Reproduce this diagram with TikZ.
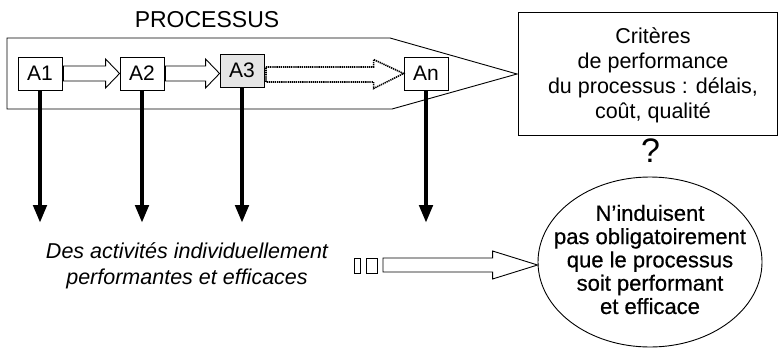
\documentclass[tikz,border=0pt]{standalone}
\usepackage{fontspec}
\setmainfont{Liberation Sans}
\newfontfamily\medfont[FakeBold=0.6]{Liberation Sans}
\usetikzlibrary{shapes.geometric,arrows.meta,calc}
\begin{document}
\begin{tikzpicture}[x=1pt,y=-1pt,
  abox/.style={draw,line width=0.9pt,minimum width=44pt,minimum height=33pt,inner sep=0pt,font=\fontsize{21}{24}\selectfont},
  hollow/.style={draw,line width=0.9pt,fill=white},
  dotarr/.style={draw,line width=1.6pt,dash pattern=on 1.3pt off 0.8pt,fill=white},
  thickarr/.style={line width=4.5pt,-{Triangle[width=13pt,length=18pt]}},
  txt/.style={font=\fontsize{21.5}{25}\selectfont,align=center,inner sep=0pt},
]
\useasboundingbox (0,0) rectangle (778,348);
% process outline
\draw[line width=0.9pt] (7,38) -- (390,38) -- (517,74) -- (392,109) -- (7,109) -- cycle;
\node[txt,font=\fontsize{23}{26}\selectfont] (proc) at (207,20) {PROCESSUS};
% activity boxes
\node[abox] (A1) at (40,73.5) {A1};
\node[abox] (A2) at (142,73.5) {A2};
\node[abox,fill=black!10] (A3) at (242,70.5) {A3};
\node[abox] (An) at (426,73.5) {An};
% hollow arrows between activities
\draw[hollow] let \p1=(A1.east), \p2=(A2.west) in
  (\x1+1pt,\y1+7.5pt) -- (\x2-14pt,\y1+7.5pt) -- (\x2-14pt,\y1+14.5pt) -- (\x2,\y1)
  -- (\x2-14pt,\y1-14.5pt) -- (\x2-14pt,\y1-7.5pt) -- (\x1+1pt,\y1-7.5pt) -- cycle;
\draw[hollow] let \p1=(A2.east), \p2=(A3.west) in
  (\x1+1pt,\y1+7.5pt) -- (\x2-14pt,\y1+7.5pt) -- (\x2-14pt,\y1+14.5pt) -- (\x2,\y1)
  -- (\x2-14pt,\y1-14.5pt) -- (\x2-14pt,\y1-7.5pt) -- (\x1+1pt,\y1-7.5pt) -- cycle;
\draw[dotarr] let \p1=(A3.east), \p2=(An.west) in
  (\x1+1.5pt,\y2+6.5pt) -- (\x2-30pt,\y2+6.5pt) -- (\x2-30pt,\y2+14pt) -- (\x2,\y2)
  -- (\x2-30pt,\y2-15pt) -- (\x2-30pt,\y2-8.5pt) -- (\x1+1.5pt,\y2-8.5pt) -- cycle;
% thick downward arrows
\coordinate (lowend) at (0,223);
\draw[thickarr] (A1.south) -- (A1.south |- lowend);
\draw[thickarr] (A2.south) -- (A2.south |- lowend);
\draw[thickarr] (A3.south) -- (A3.south |- lowend);
\draw[thickarr] (An.south) -- (An.south |- lowend);
% criteria box
\node[draw,line width=0.9pt,minimum width=259pt,minimum height=123pt,inner sep=0pt] (crit) at (647.5,73.5) {};
\node[txt] (crittxt) at (653,75.5) {Critères\\de performance\\du processus : délais,\\coût, qualité};
\node[font=\fontsize{34}{36}\selectfont,inner sep=0pt] (q) at (650.5,151) {?};
% ellipse
\node[draw,ellipse,line width=0.9pt,minimum width=224pt,minimum height=170pt,inner sep=0pt] (ell) at (650,262) {};
\node[font=\medfont\fontsize{22}{23.3}\selectfont,align=center,inner sep=0pt] (elltxt) at (650,259.5)
  {N’induisent\\pas obligatoirement\\que le processus\\soit performant\\et efficace};
% italic text
\node[txt,font=\fontsize{21.5}{26}\itshape\selectfont] (indiv) at (187,266)
  {Des activités individuellement\\performantes et efficaces};
% small boxes and bottom hollow arrow
\draw[line width=0.9pt] (354,258) rectangle (360,273);
\draw[line width=0.9pt] (366,258) rectangle (377,273);
\coordinate (bstart) at (383,265);
\draw[hollow] let \p1=(bstart), \p2=(ell.west) in
  (\x1,\y1+7pt) -- (\x2-45pt,\y1+7pt) -- (\x2-45pt,\y1+14pt) -- (\x2,\y1)
  -- (\x2-45pt,\y1-14pt) -- (\x2-45pt,\y1-7pt) -- (\x1,\y1-7pt) -- cycle;
\end{tikzpicture}
\end{document}
